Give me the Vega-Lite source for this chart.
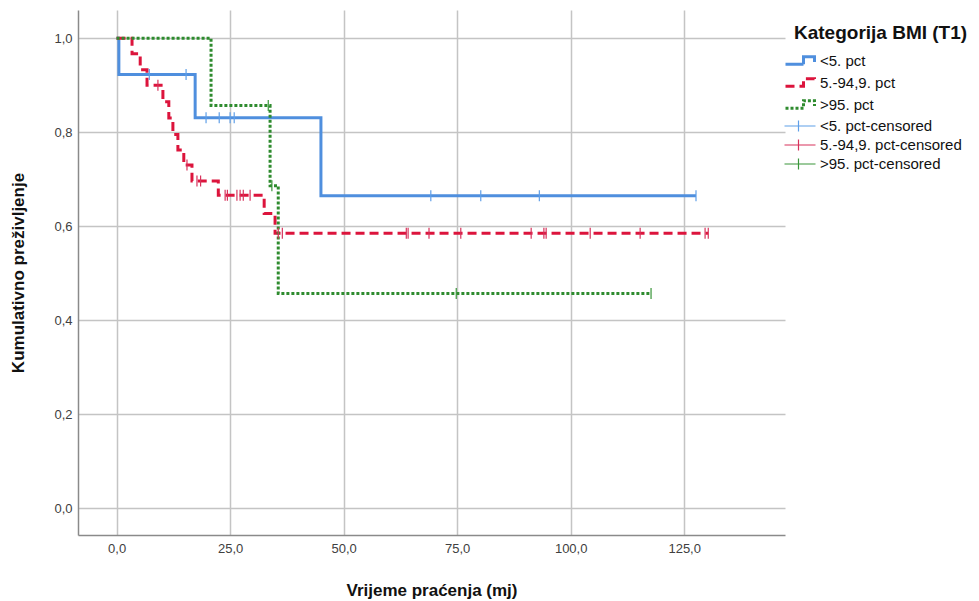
{
  "$schema": "https://vega.github.io/schema/vega-lite/v6.json",
  "width": 707,
  "height": 525,
  "autosize": "none",
  "padding": {"left": 78, "top": 10, "right": 194, "bottom": 66},
  "background": "white",
  "config": {
    "view": {"stroke": null},
    "font": "Liberation Sans",
    "axis": {
      "grid": true,
      "gridColor": "#c4c4c4",
      "gridWidth": 1.5,
      "domainColor": "#8a8a8a",
      "domainWidth": 1.5,
      "ticks": false,
      "labelFontSize": 13,
      "labelColor": "#404040",
      "labelFont": "Liberation Sans",
      "titleFont": "Liberation Sans",
      "titleFontSize": 17,
      "titleFontWeight": "bold",
      "titleColor": "#111111"
    }
  },
  "datasets": {
    "curves": [
      {"group": "<5. pct", "t": 0, "s": 1.0},
      {"group": "<5. pct", "t": 0.5, "s": 0.923},
      {"group": "<5. pct", "t": 17.3, "s": 0.831},
      {"group": "<5. pct", "t": 45.0, "s": 0.665},
      {"group": "<5. pct", "t": 127.6, "s": 0.665},
      {"group": "5.-94,9. pct", "t": 0, "s": 1.0},
      {"group": "5.-94,9. pct", "t": 3.4, "s": 0.967},
      {"group": "5.-94,9. pct", "t": 5.2, "s": 0.933},
      {"group": "5.-94,9. pct", "t": 6.7, "s": 0.9},
      {"group": "5.-94,9. pct", "t": 10.2, "s": 0.865},
      {"group": "5.-94,9. pct", "t": 11.5, "s": 0.83},
      {"group": "5.-94,9. pct", "t": 12.4, "s": 0.795},
      {"group": "5.-94,9. pct", "t": 13.5, "s": 0.762},
      {"group": "5.-94,9. pct", "t": 14.8, "s": 0.73},
      {"group": "5.-94,9. pct", "t": 16.6, "s": 0.696},
      {"group": "5.-94,9. pct", "t": 22.4, "s": 0.666},
      {"group": "5.-94,9. pct", "t": 32.5, "s": 0.627},
      {"group": "5.-94,9. pct", "t": 34.9, "s": 0.585},
      {"group": "5.-94,9. pct", "t": 130.3, "s": 0.585},
      {"group": ">95. pct", "t": 0, "s": 1.0},
      {"group": ">95. pct", "t": 20.8, "s": 0.857},
      {"group": ">95. pct", "t": 33.8, "s": 0.686},
      {"group": ">95. pct", "t": 35.6, "s": 0.457},
      {"group": ">95. pct", "t": 117.7, "s": 0.457}
    ],
    "censored": [
      {"group": "<5. pct-censored", "t": 7.2, "s": 0.923},
      {"group": "<5. pct-censored", "t": 15.3, "s": 0.923},
      {"group": "<5. pct-censored", "t": 19.7, "s": 0.831},
      {"group": "<5. pct-censored", "t": 22.6, "s": 0.831},
      {"group": "<5. pct-censored", "t": 25.0, "s": 0.831},
      {"group": "<5. pct-censored", "t": 25.9, "s": 0.831},
      {"group": "<5. pct-censored", "t": 69.2, "s": 0.665},
      {"group": "<5. pct-censored", "t": 80.2, "s": 0.665},
      {"group": "<5. pct-censored", "t": 93.1, "s": 0.665},
      {"group": "<5. pct-censored", "t": 127.6, "s": 0.665},
      {"group": "5.-94,9. pct-censored", "t": 9.1, "s": 0.9},
      {"group": "5.-94,9. pct-censored", "t": 15.5, "s": 0.73},
      {"group": "5.-94,9. pct-censored", "t": 17.7, "s": 0.696},
      {"group": "5.-94,9. pct-censored", "t": 18.5, "s": 0.696},
      {"group": "5.-94,9. pct-censored", "t": 23.9, "s": 0.666},
      {"group": "5.-94,9. pct-censored", "t": 24.4, "s": 0.666},
      {"group": "5.-94,9. pct-censored", "t": 26.5, "s": 0.666},
      {"group": "5.-94,9. pct-censored", "t": 27.2, "s": 0.666},
      {"group": "5.-94,9. pct-censored", "t": 27.9, "s": 0.666},
      {"group": "5.-94,9. pct-censored", "t": 29.4, "s": 0.666},
      {"group": "5.-94,9. pct-censored", "t": 35.6, "s": 0.585},
      {"group": "5.-94,9. pct-censored", "t": 36.5, "s": 0.585},
      {"group": "5.-94,9. pct-censored", "t": 63.8, "s": 0.585},
      {"group": "5.-94,9. pct-censored", "t": 64.2, "s": 0.585},
      {"group": "5.-94,9. pct-censored", "t": 68.8, "s": 0.585},
      {"group": "5.-94,9. pct-censored", "t": 75.8, "s": 0.585},
      {"group": "5.-94,9. pct-censored", "t": 91.3, "s": 0.585},
      {"group": "5.-94,9. pct-censored", "t": 94.1, "s": 0.585},
      {"group": "5.-94,9. pct-censored", "t": 94.6, "s": 0.585},
      {"group": "5.-94,9. pct-censored", "t": 104.3, "s": 0.585},
      {"group": "5.-94,9. pct-censored", "t": 115.3, "s": 0.585},
      {"group": "5.-94,9. pct-censored", "t": 129.6, "s": 0.585},
      {"group": "5.-94,9. pct-censored", "t": 130.3, "s": 0.585},
      {"group": ">95. pct-censored", "t": 33.4, "s": 0.857},
      {"group": ">95. pct-censored", "t": 34.2, "s": 0.686},
      {"group": ">95. pct-censored", "t": 74.8, "s": 0.457},
      {"group": ">95. pct-censored", "t": 117.7, "s": 0.457}
    ]
  },
  "encoding": {
    "x": {
      "field": "t", "type": "quantitative",
      "scale": {"domain": [-8.5, 147.2], "nice": false, "zero": false},
      "axis": {
        "title": "Vrijeme praćenja (mj)",
        "values": [0, 25, 50, 75, 100, 125],
        "labelExpr": "replace(format(datum.value, '.1f'), '.', ',')",
        "labelPadding": 7,
        "titlePadding": 27
      }
    },
    "y": {
      "field": "s", "type": "quantitative",
      "scale": {"domain": [-0.057, 1.06], "nice": false, "zero": false},
      "axis": {
        "title": "Kumulativno preživljenje",
        "values": [0, 0.2, 0.4, 0.6, 0.8, 1.0],
        "labelExpr": "replace(format(datum.value, '.1f'), '.', ',')",
        "labelPadding": 6,
        "titlePadding": 26
      }
    },
    "color": {
      "field": "group", "type": "nominal",
      "scale": {
        "domain": ["<5. pct", "5.-94,9. pct", ">95. pct", "<5. pct-censored", "5.-94,9. pct-censored", ">95. pct-censored"],
        "range": ["#4f8fde", "#dc143c", "#2e8b2e", "#5f9fe8", "#d7335c", "#3a963a"]
      },
      "legend": {
        "title": "Kategorija BMI (T1)",
        "orient": "none",
        "legendX": 716,
        "legendY": 14,
        "titleFontSize": 19,
        "titleFontWeight": "bold",
        "titleColor": "#111111",
        "titlePadding": 6,
        "labelFontSize": 15,
        "labelColor": "#111111",
        "labelOffset": 3,
        "symbolSize": 400,
        "rowPadding": 0,
        "encode": {
          "symbols": {
            "update": {
              "shape": {"signal": "indexof(datum.label, 'censored') >= 0 ? 'M-2.1,0 L1,0 M-0.7,-0.55 L-0.7,0.55' : 'M-2,0.38 L-0.2,0.38 L-0.2,-0.38 L0.9,-0.38 L0.9,0.15'"}
            }
          }
        }
      }
    },
    "strokeDash": {
      "field": "group", "type": "nominal",
      "scale": {
        "domain": ["<5. pct", "5.-94,9. pct", ">95. pct", "<5. pct-censored", "5.-94,9. pct-censored", ">95. pct-censored"],
        "range": [[1, 0], [9, 5], [3, 2], [1, 0], [1, 0], [1, 0]]
      }
    },
    "strokeWidth": {
      "field": "group", "type": "nominal",
      "scale": {
        "type": "ordinal",
        "domain": ["<5. pct", "5.-94,9. pct", ">95. pct", "<5. pct-censored", "5.-94,9. pct-censored", ">95. pct-censored"],
        "range": [3, 3, 3, 1.2, 1.2, 1.2]
      }
    }
  },
  "layer": [
    {
      "data": {"name": "curves"},
      "mark": {"type": "line", "interpolate": "step-after"}
    },
    {
      "data": {"name": "censored"},
      "mark": {"type": "point", "shape": "M0,-1 L0,1", "filled": false, "size": 121, "opacity": 1}
    }
  ]
}
